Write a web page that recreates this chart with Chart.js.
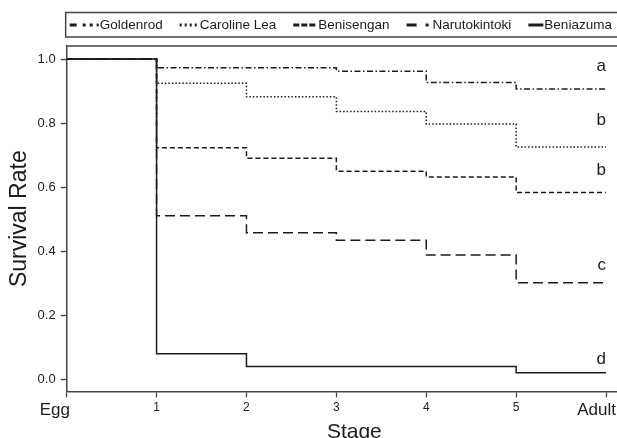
<!DOCTYPE html>
<html>
<head>
<meta charset="utf-8">
<script src="https://cdn.jsdelivr.net/npm/chart.js@4"></script>
<style>
  html, body { margin: 0; padding: 0; overflow: hidden; background: #fff; }
  #wrap { width: 660px; height: 445px; }
</style>
</head>
<body>
<div id="wrap"><canvas id="survivalChart" width="660" height="445"></canvas></div>
<script>
// stages on the x axis (Egg = 0 ... Adult = 6)
var stageLabels = ['Egg', '1', '2', '3', '4', '5', 'Adult'];
var stagePos = [0, 1, 2, 3, 4, 5, 6];

// survival rate at each stage
var goldenrod     = [1.0, 0.973, 0.973, 0.962, 0.927, 0.906, 0.906];
var carolineLea   = [1.0, 0.924, 0.882, 0.836, 0.797, 0.725, 0.725];
var benisengan    = [1.0, 0.723, 0.690, 0.650, 0.632, 0.583, 0.583];
var narutokintoki = [1.0, 0.511, 0.458, 0.434, 0.388, 0.302, 0.302];
var beniazuma     = [1.0, 0.080, 0.040, 0.040, 0.040, 0.021, 0.021];

var yTickValues = [0, 0.2, 0.4, 0.6, 0.8, 1.0];

// significance letters at the right end
var groupLetters = ['a', 'b', 'b', 'c', 'd'];
var letterY = [0.978, 0.809, 0.653, 0.356, 0.062];

var ink = '#1c1c1c';
var axisColor = '#444';
var fontFamily = "'Liberation Sans', Arial, sans-serif";

Chart.defaults.font.family = fontFamily;
Chart.defaults.color = ink;

function toPoints(vals) {
  return vals.map(function (v, i) { return { x: stagePos[i], y: v }; });
}

function series(label, vals, dash, legendDash, legendWidth) {
  return {
    label: label,
    data: toPoints(vals),
    stepped: 'before',
    borderColor: ink,
    borderWidth: 1.5,
    borderDash: dash,
    pointRadius: 0,
    fill: false,
    legendDash: legendDash,
    legendWidth: legendWidth
  };
}

// legend box + top frame line + letters
var extras = {
  id: 'extras',
  afterDraw: function (chart) {
    var ctx = chart.ctx;
    var area = chart.chartArea;
    ctx.save();

    // top frame line
    ctx.strokeStyle = axisColor;
    ctx.lineWidth = 1.5;
    ctx.beginPath();
    ctx.moveTo(area.left - 0.75, area.top);
    ctx.lineTo(chart.width, area.top);
    ctx.stroke();

    // legend box
    ctx.lineWidth = 1.5;
    ctx.strokeRect(area.left - 1, 12.5, chart.width, 24.5);

    ctx.font = '13.5px ' + fontFamily;
    ctx.textBaseline = 'middle';
    ctx.textAlign = 'left';
    var x = area.left + 3;
    var y = 25;
    chart.data.datasets.forEach(function (ds) {
      ctx.strokeStyle = ink;
      ctx.lineWidth = 3;
      ctx.setLineDash(ds.legendDash);
      ctx.beginPath();
      ctx.moveTo(x, y);
      ctx.lineTo(x + ds.legendWidth, y);
      ctx.stroke();
      ctx.setLineDash([]);
      x += ds.legendWidth + 1;
      ctx.fillStyle = ink;
      ctx.fillText(ds.label, x, y);
      x += ctx.measureText(ds.label).width + 17;
    });

    // letters
    ctx.font = '17px ' + fontFamily;
    ctx.textAlign = 'right';
    var xs = chart.scales.x, ys = chart.scales.y;
    groupLetters.forEach(function (l, i) {
      ctx.fillText(l, xs.getPixelForValue(stagePos[stagePos.length - 1]), ys.getPixelForValue(letterY[i]));
    });
    ctx.restore();
  }
};

new Chart('survivalChart', {
  type: 'line',
  data: {
    datasets: [
      series('Goldenrod', goldenrod, [6, 2.5, 1.5, 2.5], [7, 6, 3, 4, 3, 4, 3, 100], 29),
      series('Caroline Lea', carolineLea, [1.5, 2], [2, 3], 19),
      series('Benisengan', benisengan, [5, 3], [6, 2], 24),
      series('Narutokintoki', narutokintoki, [10, 5], [10, 9, 3, 100], 25),
      series('Beniazuma', beniazuma, [], [], 15)
    ]
  },
  options: {
    responsive: false,
    animation: false,
    layout: { padding: { left: 2, top: 46, right: 18, bottom: 0 } },
    plugins: {
      legend: { display: false },
      tooltip: { enabled: false }
    },
    scales: {
      x: {
        type: 'linear',
        min: 0,
        max: 6.4,
        afterBuildTicks: function (scale) {
          scale.ticks = stagePos.map(function (v) { return { value: v }; });
        },
        grid: { display: true, drawOnChartArea: false, drawTicks: true, tickLength: 6, color: axisColor, tickWidth: 1.3 },
        border: { display: true, color: axisColor, width: 1.5 },
        ticks: {
          padding: 3,
          maxRotation: 0,
          color: ink,
          font: function (c) {
            var v = c.tick ? c.tick.value : 1;
            return { size: (v === 0 || v === 6) ? 17 : 12 };
          },
          callback: function (v) {
            var lab = stageLabels[stagePos.indexOf(v)];
            if (v === 0) return lab + '     ';
            if (v === 6) return lab + '    ';
            return lab;
          }
        },
        title: {
          display: true,
          text: 'Stage',
          color: ink,
          font: { size: 21 },
          padding: { top: -4, bottom: 0 }
        }
      },
      y: {
        min: -0.0375,
        max: 1.0406,
        afterBuildTicks: function (scale) {
          scale.ticks = yTickValues.map(function (v) { return { value: v }; });
        },
        grid: { display: true, drawOnChartArea: false, drawTicks: true, tickLength: 6, color: axisColor, tickWidth: 1.3 },
        border: { display: true, color: axisColor, width: 1.5 },
        ticks: {
          padding: 5,
          color: ink,
          font: { size: 13 },
          callback: function (v) { return v.toFixed(1); }
        },
        title: {
          display: true,
          text: 'Survival Rate',
          color: ink,
          font: { size: 23 },
          padding: { top: 4, bottom: -1 }
        }
      }
    }
  },
  plugins: [extras]
});
</script>
</body>
</html>
